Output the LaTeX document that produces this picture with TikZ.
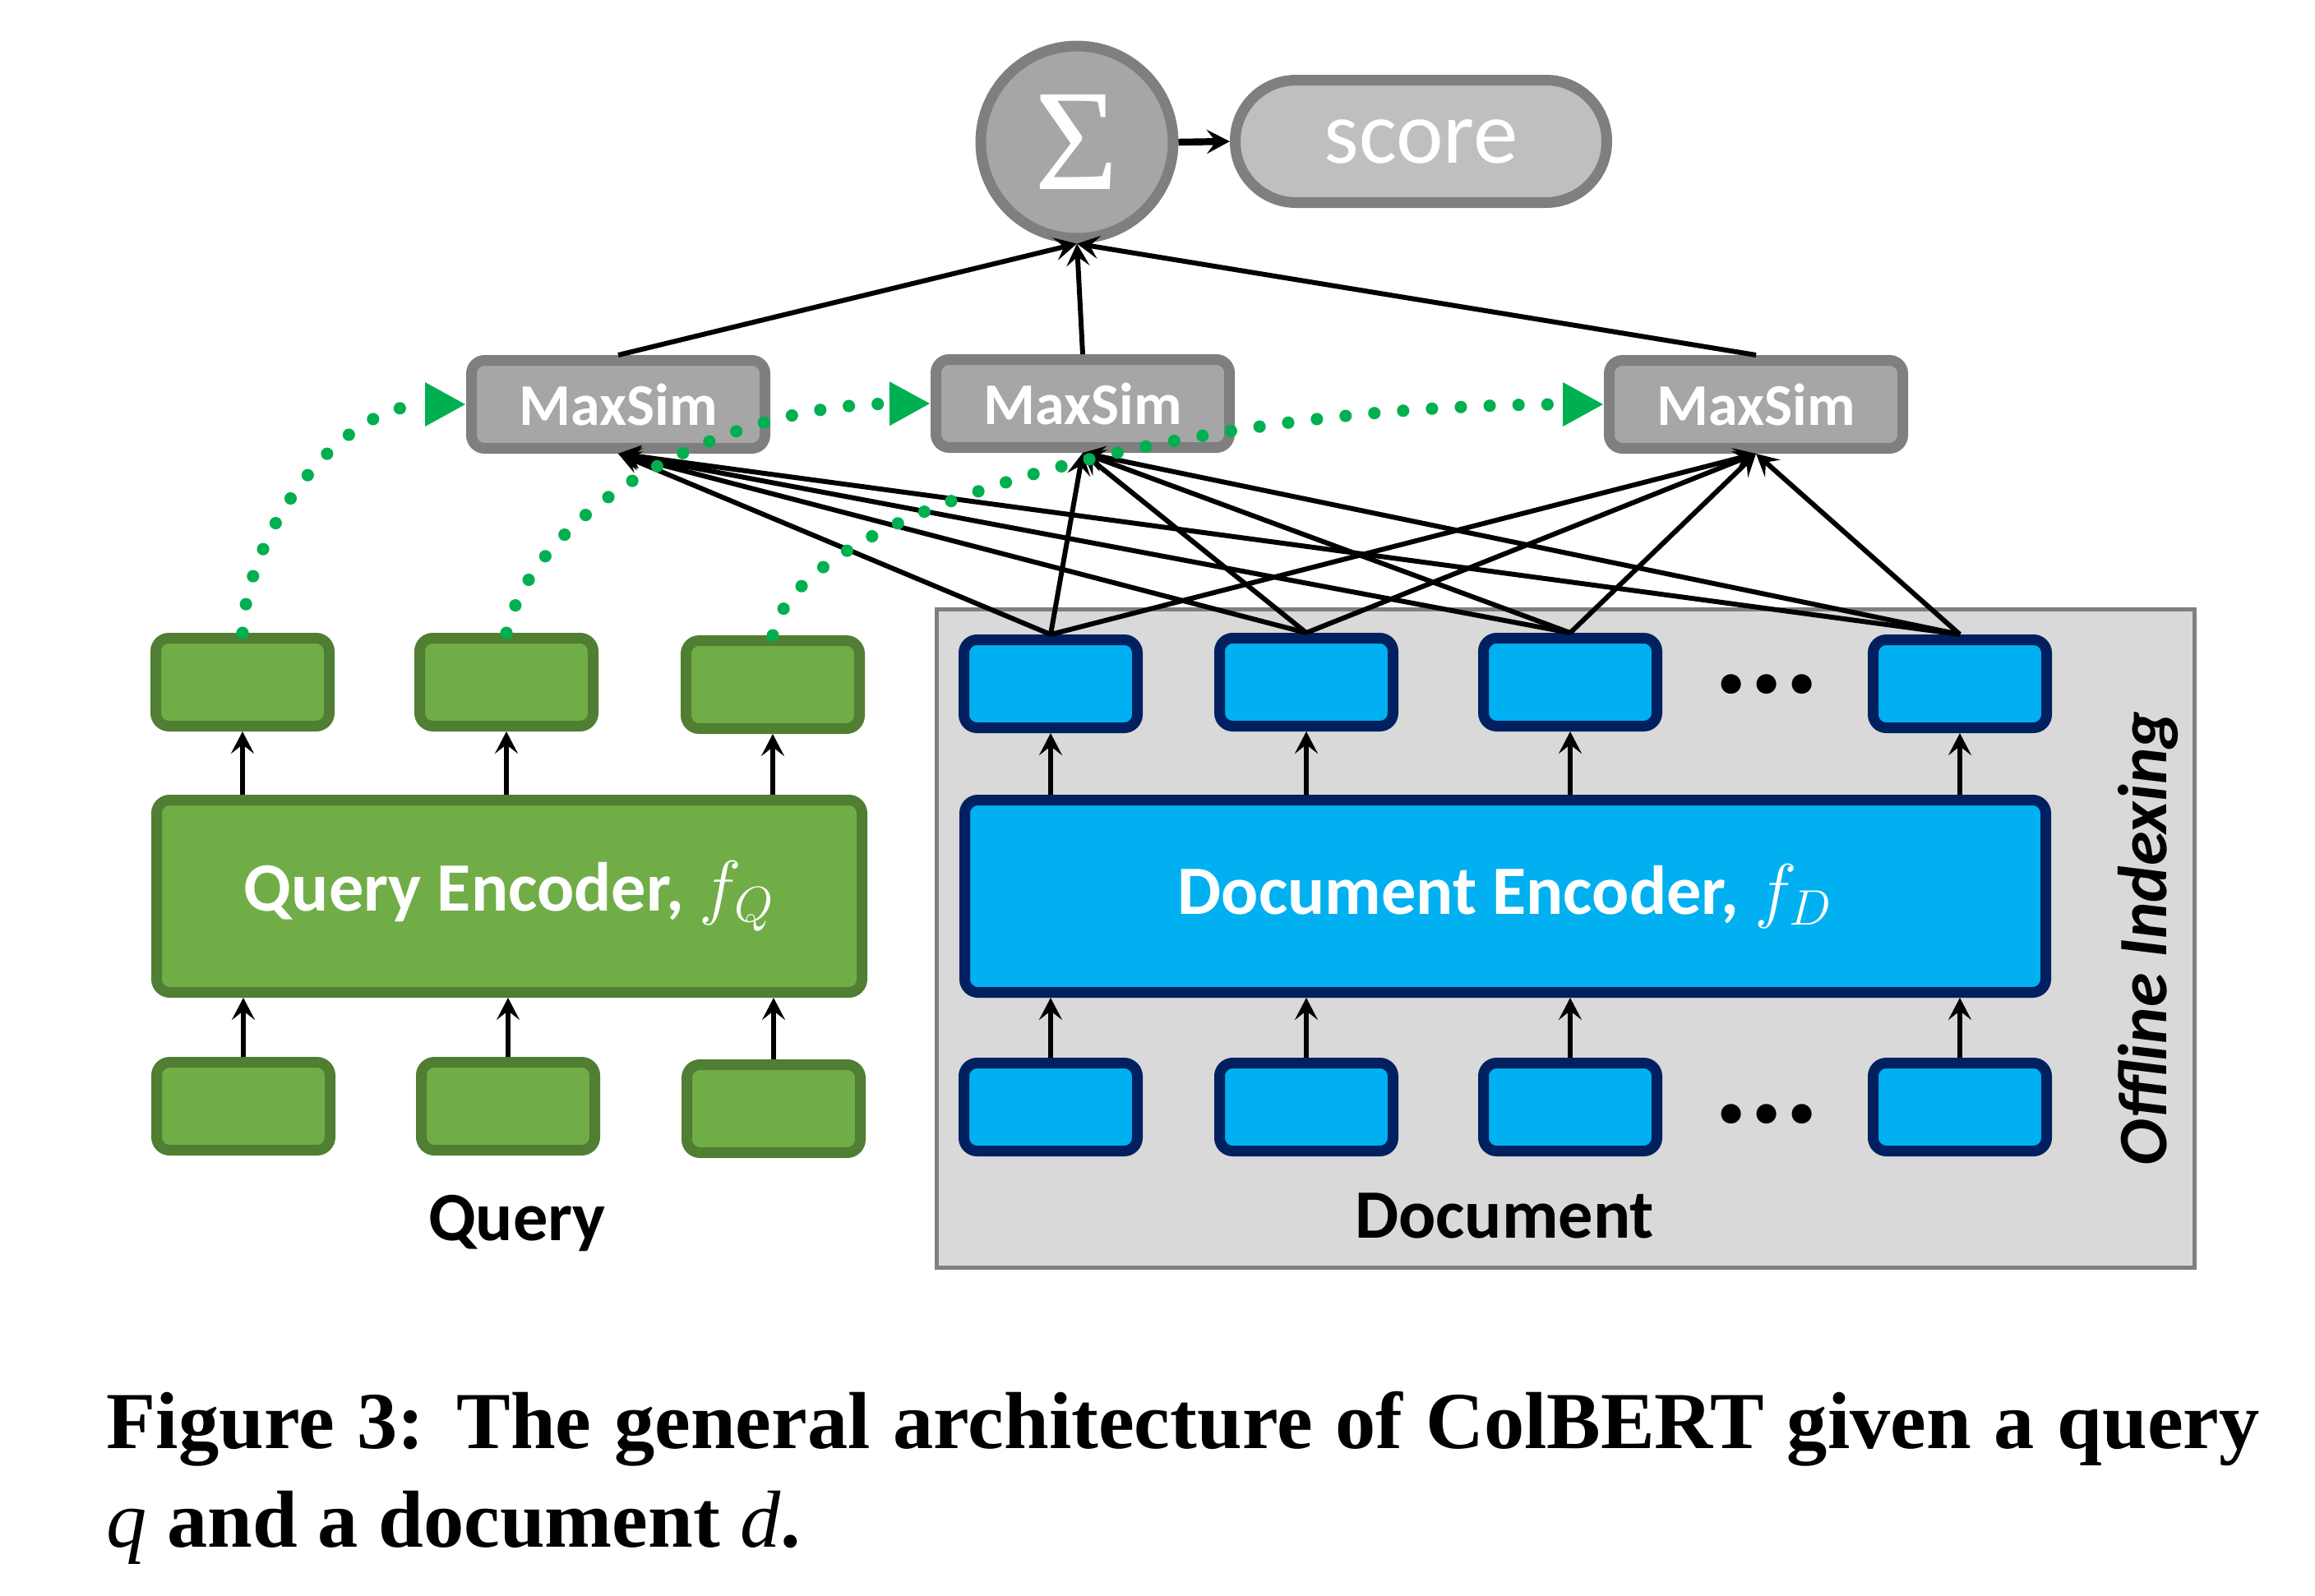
\documentclass[tikz,border=0pt]{standalone}
\usepackage{fontspec}
\setmainfont{Carlito}
\newfontfamily\capfont{Liberation Serif}
\usepackage{xcolor}
\usetikzlibrary{arrows.meta}

\definecolor{qfill}{HTML}{70AD47}
\definecolor{qline}{HTML}{507E32}
\definecolor{dfill}{HTML}{00B0F0}
\definecolor{dline}{HTML}{002060}
\definecolor{msfill}{HTML}{A6A6A6}
\definecolor{msline}{HTML}{7F7F7F}
\definecolor{scorefill}{HTML}{BFBFBF}
\definecolor{offfill}{HTML}{D9D9D9}
\definecolor{matchgreen}{HTML}{00B050}

\begin{document}
\begin{tikzpicture}[
	qbox/.style={draw=qline,fill=qfill,line width=1.3mm,rounded corners=1.6mm,minimum width=2.11cm,minimum height=1.07cm,inner sep=0pt},
	dbox/.style={qbox,draw=dline,fill=dfill},
	enc/.style={line width=1.3mm,rounded corners=1.6mm,minimum height=2.34cm,text=white,font=\bfseries\fontsize{24}{28}\selectfont},
	msbox/.style={draw=msline,fill=msfill,line width=1.3mm,rounded corners=1.6mm,minimum width=3.57cm,minimum height=1.07cm,text=white,font=\bfseries\fontsize{20.5}{24}\selectfont},
	label/.style={font=\bfseries\fontsize{24}{28}\selectfont,anchor=base},
	dotsrow/.style={font=\bfseries\fontsize{46}{46}\selectfont,anchor=base,inner sep=0pt},
	link/.style={line width=1.7pt,-{Stealth[length=2.7mm,width=2.8mm,inset=1.1mm]}},
	match/.style={matchgreen,line width=4.3pt,line cap=round,dash pattern=on 0pt off 10pt,-{Triangle[length=5mm,width=5mm]}}]
						\useasboundingbox (0,0) rectangle (28.16,-19.42);
						\draw[draw=msline,fill=offfill,line width=0.5mm] (11.395,-7.415) rectangle (26.695,-15.425);
						\node[circle,draw=msline,fill=msfill,line width=1.3mm,minimum size=2.34cm,inner sep=0pt,text=white] (sig) at (13.10,-1.73) {\capfont\fontsize{50}{50}\selectfont Σ};
						\node[draw=msline,fill=scorefill,line width=1.3mm,rounded corners=7.4mm,minimum width=4.52cm,minimum height=1.49cm,text=white,font=\fontsize{31}{34}\selectfont] (score) at (17.285,-1.72) {score};
						\node[msbox] (ms1) at (7.52,-4.92) {MaxSim};
						\node[msbox] (ms2) at (13.17,-4.91) {MaxSim};
						\node[msbox] (ms3) at (21.36,-4.92) {MaxSim};
						\node[qbox] (qt1) at (2.95,-8.30) {};
						\node[qbox] (qt2) at (6.16,-8.30) {};
						\node[qbox] (qt3) at (9.40,-8.33) {};
						\node[enc,draw=qline,fill=qfill,minimum width=8.58cm] (qenc) at (6.195,-10.905) {Query Encoder, $f_Q$};
						\node[qbox] (qb1) at (2.96,-13.46) {};
						\node[qbox] (qb2) at (6.18,-13.46) {};
						\node[qbox] (qb3) at (9.41,-13.49) {};
						\node[label] (query) at (6.29,-15.09) {Query};
						\node[dbox] (dt1) at (12.78,-8.32) {};
						\node[dbox] (dt2) at (15.89,-8.30) {};
						\node[dbox] (dt3) at (19.10,-8.30) {};
						\node[dbox] (dt4) at (23.84,-8.32) {};
						\node[dotsrow] (dots1) at (21.49,-8.43) {...};
						\node[enc,draw=dline,fill=dfill,minimum width=13.15cm] (denc) at (18.31,-10.905) {Document Encoder, $f_D$};
						\node[dbox] (db1) at (12.78,-13.47) {};
						\node[dbox] (db2) at (15.89,-13.47) {};
						\node[dbox] (db3) at (19.10,-13.47) {};
						\node[dbox] (db4) at (23.84,-13.47) {};
						\node[dotsrow] (dots2) at (21.49,-13.66) {...};
						\node[label] (doc) at (18.30,-15.06) {Document};
						\node[rotate=90,font=\bfseries\itshape\fontsize{24}{28}\selectfont] (offline) at (26.13,-11.42) {Offline Indexing};
						\draw[line width=2.4pt,-{Stealth[length=2.8mm,width=2.9mm,inset=1.1mm]}] (sig.east)--(score.west);
						\draw[link] (ms1.north)--(sig.south);
						\draw[link] (ms2.north)--(sig.south);
						\draw[link] (ms3.north)--(sig.south);
						\draw[link] (dt1.north)--(ms1.south);
						\draw[link] (dt2.north)--(ms1.south);
						\draw[link] (dt3.north)--(ms1.south);
						\draw[link] (dt4.north)--(ms1.south);
						\draw[link] (dt1.north)--(ms2.south);
						\draw[link] (dt2.north)--(ms2.south);
						\draw[link] (dt3.north)--(ms2.south);
						\draw[link] (dt4.north)--(ms2.south);
						\draw[link] (dt1.north)--(ms3.south);
						\draw[link] (dt2.north)--(ms3.south);
						\draw[link] (dt3.north)--(ms3.south);
						\draw[link] (dt4.north)--(ms3.south);
						\draw[link] (qb1.north)--(qb1.north |- qenc.south);
						\draw[link] (qb2.north)--(qb2.north |- qenc.south);
						\draw[link] (qb3.north)--(qb3.north |- qenc.south);
						\draw[link] (qt1.south |- qenc.north)--(qt1.south);
						\draw[link] (qt2.south |- qenc.north)--(qt2.south);
						\draw[link] (qt3.south |- qenc.north)--(qt3.south);
						\draw[link] (db1.north)--(db1.north |- denc.south);
						\draw[link] (db2.north)--(db2.north |- denc.south);
						\draw[link] (db3.north)--(db3.north |- denc.south);
						\draw[link] (db4.north)--(db4.north |- denc.south);
						\draw[link] (dt1.south |- denc.north)--(dt1.south);
						\draw[link] (dt2.south |- denc.north)--(dt2.south);
						\draw[link] (dt3.south |- denc.north)--(dt3.south);
						\draw[link] (dt4.south |- denc.north)--(dt4.south);
						\draw[match] (qt1.north) .. controls (3.00,-6.50) and (4.10,-4.92) .. (ms1.west);
						\draw[match] (qt2.north) .. controls (6.50,-6.20) and (8.80,-4.92) .. (ms2.west);
						\draw[match] (qt3.north) .. controls (9.70,-6.20) and (14.50,-4.92) .. (ms3.west);
						\node[anchor=base west,inner sep=0pt,font=\capfont\bfseries\fontsize{28}{34}\selectfont] (cap1) at (1.29,-17.62) {\makebox[26.19cm][s]{Figure 3: The general architecture of ColBERT given a query}};
						\node[anchor=base west,inner sep=0pt,font=\capfont\bfseries\fontsize{28}{34}\selectfont] (cap2) at (1.29,-18.82) {{\mdseries\itshape q} and a document {\mdseries\itshape d}.};
					\end{tikzpicture}
\end{document}
